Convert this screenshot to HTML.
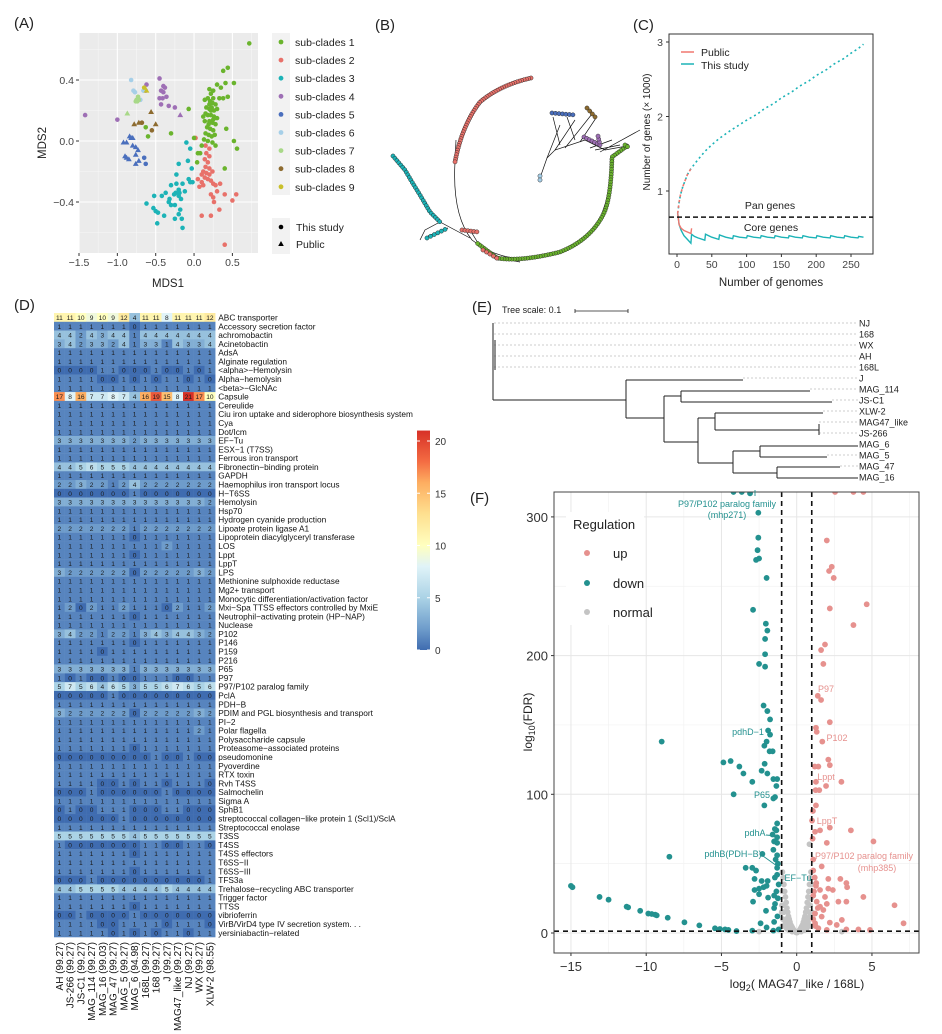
<!DOCTYPE html>
<html><head><meta charset="utf-8">
<style>
html,body{margin:0;padding:0;background:#fff;}
svg{display:block;font-family:"Liberation Sans",Arial,sans-serif;}
</style></head>
<body>
<svg id="fig" width="942" height="1034" viewBox="0 0 942 1034" xmlns="http://www.w3.org/2000/svg">
<g id="pA"></g>
<g id="pB"></g>
<g id="pC"></g>
<g id="pD"></g>
<g id="pE"></g>
<g id="pF"></g>
</svg>
<script>
// ===== Panel A data =====
const cladeNames=["sub-clades 1","sub-clades 2","sub-clades 3","sub-clades 4","sub-clades 5","sub-clades 6","sub-clades 7","sub-clades 8","sub-clades 9"];
const cladeColors=["#6AB42D","#E8716A","#1CB3B7","#9E6FB5","#4A6FBD","#A6CFE8","#A8D888","#8D6B2F","#C9C02B"];
const mdsC1=[[0.72,0.64],[0.44,0.48],[0.38,0.46],[0.41,0.38],[0.52,0.38],[0.44,0.29],[0.35,0.35],[0.3,0.37],[0.25,0.33],[0.2,0.34],[0.22,0.31],[0.18,0.28],[0.25,0.28],[0.33,0.28],[0.38,0.28],[0.14,0.27],[0.2,0.24],[0.24,0.25],[0.28,0.24],[0.16,0.22],[0.2,0.21],[0.23,0.22],[0.26,0.2],[0.3,0.21],[0.15,0.18],[0.18,0.17],[0.22,0.17],[0.26,0.16],[0.14,0.13],[0.2,0.13],[0.24,0.12],[0.28,0.11],[0.17,0.09],[0.21,0.08],[0.25,0.07],[0.42,0.08],[0.15,0.05],[0.19,0.04],[0.23,0.03],[0.27,0.04],[0.13,0.01],[0.18,0.0],[0.24,-0.01],[0.1,-0.03],[0.28,-0.03],[0.52,0.0],[0.56,-0.05],[0.0,0.02],[0.05,-0.08],[0.08,-0.08],[-0.07,0.21],[-0.3,0.05],[-0.63,0.09],[-0.6,0.03],[0.04,-0.14],[0.4,-0.18],[0.12,0.16],[0.3,0.15],[0.22,0.2],[0.19,0.11],[0.25,0.14],[0.21,0.26]];
const mdsC2=[[0.15,-0.03],[0.2,-0.05],[0.16,-0.08],[0.2,-0.1],[0.14,-0.12],[0.18,-0.14],[0.15,-0.17],[0.2,-0.18],[0.12,-0.2],[0.16,-0.21],[0.2,-0.22],[0.24,-0.2],[0.1,-0.22],[0.14,-0.24],[0.18,-0.25],[0.22,-0.26],[0.1,-0.27],[0.05,-0.25],[0.12,-0.29],[0.25,-0.28],[0.28,-0.29],[0.07,-0.3],[0.34,-0.28],[0.3,-0.33],[0.25,-0.37],[0.22,-0.35],[0.26,-0.4],[0.4,-0.35],[0.55,-0.35],[0.5,-0.39],[0.33,-0.45],[0.22,-0.49],[0.1,-0.49],[0.4,-0.68],[0.02,0.02]];
const mdsC3=[[-0.1,-0.01],[-0.05,-0.05],[-0.2,-0.15],[-0.03,-0.18],[-0.23,-0.22],[-0.07,-0.25],[-0.05,-0.27],[-0.02,-0.27],[-0.3,-0.29],[-0.23,-0.28],[-0.15,-0.28],[-0.2,-0.32],[-0.19,-0.34],[-0.24,-0.34],[-0.12,-0.33],[-0.37,-0.34],[-0.2,-0.36],[-0.26,-0.35],[-0.52,-0.36],[-0.42,-0.36],[-0.32,-0.38],[-0.33,-0.4],[-0.17,-0.38],[-0.25,-0.42],[-0.3,-0.42],[-0.62,-0.41],[-0.53,-0.44],[-0.5,-0.46],[-0.47,-0.47],[-0.18,-0.45],[-0.2,-0.48],[-0.39,-0.49],[-0.25,-0.51],[-0.16,-0.51],[-0.48,-0.54],[-0.15,-0.57],[-0.08,-0.13]];
const mdsC4=[[-1.42,0.17],[-1.0,0.14],[-0.62,0.37],[-0.45,0.41],[-0.4,0.36],[-0.38,0.35],[-0.43,0.33],[-0.4,0.32],[-0.45,0.28],[-0.41,0.28],[-0.36,0.29],[-0.43,0.24],[-0.33,0.23],[-0.25,0.22],[-0.63,0.33]];
const mdsC4t=[[-0.18,0.17]];
const mdsC5t=[[-0.84,0.03],[-0.82,0.02],[-0.8,0.02],[-0.92,-0.01],[-0.88,-0.01],[-0.8,-0.03],[-0.76,-0.04],[-0.73,-0.06],[-0.9,-0.1],[-0.88,-0.11],[-0.85,-0.12],[-0.76,-0.09],[-0.72,-0.13],[-0.76,-0.15]];
const mdsC5=[[-0.65,-0.11],[-0.63,-0.15]];
const mdsC6=[[-0.82,0.4],[-0.79,0.33],[-0.77,0.32],[-0.7,0.27],[-0.66,0.33]];
const mdsC7=[[-0.75,0.27],[-0.74,0.26],[-0.72,0.27],[-0.73,0.29],[-0.76,0.26]];
const mdsC7t=[[-0.87,0.18]];
const mdsC8=[[-0.68,0.12],[-0.55,0.07]];
const mdsC8t=[[-0.78,0.11],[-0.72,0.12],[-0.56,0.19],[-0.5,0.11]];
const mdsC9=[[-0.65,0.35]];
const mdsC9t=[[-0.62,0.33]];
const mdsXTicks=[-1.5,-1.0,-0.5,0.0,0.5];
const mdsYTicks=[0.4,0.0,-0.4];

// ===== Panel C data =====
const genomeTicks=[0,50,100,150,200,250];
const geneTicks=[1,2,3];
const panN=[1,3,5,8,10,15,20,30,40,50,60,75,90,100,115,125,140,150,165,175,190,200,215,225,240,250,260,268];
const panV=[0.70,0.85,0.95,1.05,1.10,1.22,1.30,1.42,1.53,1.62,1.70,1.80,1.89,1.95,2.03,2.10,2.18,2.25,2.33,2.40,2.48,2.55,2.63,2.70,2.78,2.85,2.91,2.97];
const panPubN=[1,3,5,8,10,15,20];
const panPubV=[0.70,0.85,0.95,1.05,1.10,1.22,1.30];
const coreN=[1,3,6,10,15,20,21,25,30,40,41,50,60,61,70,80,81,90,100,101,110,120,121,130,140,141,150,160,161,170,180,181,190,200,201,210,220,221,230,240,241,250,260,261,268];
const coreV=[0.70,0.55,0.47,0.40,0.35,0.30,0.42,0.39,0.37,0.34,0.42,0.38,0.35,0.41,0.38,0.36,0.40,0.38,0.37,0.40,0.38,0.37,0.40,0.38,0.37,0.40,0.38,0.37,0.40,0.38,0.37,0.40,0.38,0.37,0.40,0.38,0.37,0.40,0.38,0.37,0.40,0.38,0.37,0.39,0.38];
const corePubN=[1,3,6,10,15,20,21];
const corePubV=[0.70,0.55,0.50,0.47,0.45,0.43,0.50];

// ===== Panel D data =====
const genomes=["AH (99.27)","JS-266 (99.27)","JS-C1 (99.27)","MAG_114 (99.27)","MAG_16 (99.03)","MAG_47 (99.27)","MAG_5 (99.27)","MAG_6 (94.98)","168L (99.27)","168 (99.27)","J (99.27)","MAG47_like (99.27)","NJ (99.27)","WX (99.27)","XLW-2 (98.55)"];
const factors=["ABC transporter","Accessory secretion factor","achromobactin","Acinetobactin","AdsA","Alginate regulation","<alpha>\u2212Hemolysin","Alpha\u2212hemolysin","<beta>\u2212GlcNAc","Capsule","Cereulide","Ciu iron uptake and siderophore biosynthesis system","Cya","Dot/Icm","EF\u2212Tu","ESX\u22121 (T7SS)","Ferrous iron transport","Fibronectin\u2212binding protein","GAPDH","Haemophilus iron transport locus","H\u2212T6SS","Hemolysin","Hsp70","Hydrogen cyanide production","Lipoate protein ligase A1","Lipoprotein diacylglyceryl transferase","LOS","Lppt","LppT","LPS","Methionine sulphoxide reductase","Mg2+ transport","Monocytic differentiation/activation factor","Mxi\u2212Spa TTSS effectors controlled by MxiE","Neutrophil\u2212activating protein (HP\u2212NAP)","Nuclease","P102","P146","P159","P216","P65","P97","P97/P102 paralog family","PclA","PDH\u2212B","PDIM and PGL biosynthesis and transport","PI\u22122","Polar flagella","Polysaccharide capsule","Proteasome\u2212associated proteins","pseudomonine","Pyoverdine","RTX toxin","Rvh T4SS","Salmochelin","Sigma A","SphB1","streptococcal collagen\u2212like protein 1 (Scl1)/SclA","Streptococcal enolase","T3SS","T4SS","T4SS effectors","T6SS\u2212II","T6SS\u2212III","TFS3a","Trehalose\u2212recycling ABC transporter","Trigger factor","TTSS","vibrioferrin","VirB/VirD4 type IV secretion system. . .","yersiniabactin\u2212related"];
const counts=[
"11 11 10 9 10 9 12 4 11 11 8 11 11 11 12","1 1 1 1 1 1 1 0 1 1 1 1 1 1 1","4 4 2 4 3 4 4 1 4 4 4 4 4 4 4","3 4 2 3 3 2 4 1 3 3 1 4 3 3 4",
"1 1 1 1 1 1 1 1 1 1 1 1 1 1 1","1 1 1 1 1 1 1 1 1 1 1 1 1 1 1","0 0 0 0 1 1 0 0 0 1 0 0 1 0 1","1 1 1 1 0 0 1 0 1 0 1 1 0 1 0","1 1 1 1 1 1 1 1 1 1 1 1 1 1 1",
"17 8 16 7 7 8 7 4 16 19 15 8 21 17 10","1 1 1 1 1 1 1 1 1 1 1 1 1 1 1","1 1 1 1 1 1 1 1 1 1 1 1 1 1 1","1 1 1 1 1 1 1 1 1 1 1 1 1 1 1","1 1 1 1 1 1 1 1 1 1 1 1 1 1 1",
"3 3 3 3 3 3 3 2 3 3 3 3 3 3 3","1 1 1 1 1 1 1 1 1 1 1 1 1 1 1","1 1 1 1 1 1 1 1 1 1 1 1 1 1 1","4 4 5 6 5 5 5 4 4 4 4 4 4 4 4","1 1 1 1 1 1 1 1 1 1 1 1 1 1 1",
"2 2 3 2 2 1 2 4 2 2 2 2 2 2 2","0 0 0 0 0 0 0 1 0 0 0 0 0 0 0","3 3 3 3 3 3 3 3 3 3 3 3 3 3 2","1 1 1 1 1 1 1 1 1 1 1 1 1 1 1","1 1 1 1 1 1 1 1 1 1 1 1 1 1 1",
"2 2 2 2 2 2 2 1 2 2 2 2 2 2 2","1 1 1 1 1 1 1 0 1 1 1 1 1 1 1","1 1 1 1 1 1 1 1 1 1 2 1 1 1 1","1 1 1 1 1 1 1 0 1 1 1 1 1 1 1","1 1 1 1 1 1 1 1 1 1 1 1 1 1 1",
"3 2 2 2 2 2 2 0 2 2 2 2 2 3 2","1 1 1 1 1 1 1 1 1 1 1 1 1 1 1","1 1 1 1 1 1 1 1 1 1 1 1 1 1 1","1 1 1 1 1 1 1 1 1 1 1 1 1 1 1","1 2 0 2 1 1 2 1 1 1 0 2 1 1 2",
"1 1 1 1 1 1 1 0 1 1 1 1 1 1 1","1 1 1 1 1 1 1 1 1 1 1 1 1 1 1","3 4 2 2 1 2 2 1 3 4 3 4 4 3 2","1 1 1 1 1 1 1 0 1 1 1 1 1 1 1","1 1 1 1 0 1 1 1 1 1 1 1 1 1 1",
"1 1 1 1 1 1 1 1 1 1 1 1 1 1 1","3 3 3 3 3 3 3 1 3 3 3 3 3 3 3","1 0 1 0 0 1 0 0 1 1 1 0 0 1 1","5 7 5 6 4 6 5 3 5 5 6 7 6 5 6","0 0 0 0 0 1 0 0 0 0 0 0 0 0 0",
"1 1 1 1 1 1 1 1 1 1 1 1 1 1 1","3 2 2 2 2 2 2 0 2 2 2 2 2 3 2","1 1 1 1 1 1 1 1 1 1 1 1 1 1 1","1 1 1 1 1 1 1 1 1 1 1 1 1 2 1","1 1 1 1 1 1 1 1 1 1 1 1 1 1 1",
"1 1 1 1 1 1 1 0 1 1 1 1 1 1 1","0 0 0 0 0 0 0 0 0 1 0 0 1 0 0","1 1 1 1 1 1 1 1 1 1 1 1 1 1 1","1 1 1 1 1 1 1 1 1 1 1 1 1 1 1","1 1 1 1 0 0 1 0 1 1 0 1 1 1 0",
"0 0 0 1 0 0 0 0 0 0 1 0 0 0 0","1 1 1 1 1 1 1 1 1 1 1 1 1 1 1","0 1 0 0 1 1 1 0 0 0 1 1 0 0 0","0 0 0 0 0 0 1 0 0 0 0 0 0 0 0","1 1 1 1 1 1 1 1 1 1 1 1 1 1 1",
"5 5 5 5 5 5 5 4 5 5 5 5 5 5 5","1 0 0 0 0 0 0 0 1 1 0 0 1 1 0","1 1 1 1 1 1 1 0 1 1 1 1 1 1 1","1 1 1 1 1 1 1 1 1 1 1 1 1 1 1","1 1 1 1 1 1 1 0 1 1 1 1 1 1 1",
"0 0 0 1 0 0 0 0 0 0 0 0 0 0 1","4 4 5 5 5 5 4 4 4 4 5 4 4 4 4","1 1 1 1 1 1 1 1 1 1 1 1 1 1 1","1 1 1 1 1 1 1 0 1 1 1 1 1 1 1","0 0 1 0 0 0 0 1 0 0 0 0 0 0 0",
"1 1 1 1 0 0 1 1 1 1 0 1 1 1 0","1 1 1 1 1 0 1 0 1 0 1 1 0 1 1"];
const scaleTicks=[0,5,10,15,20];

// ===== Panel F data =====
const fcTicks=[-15,-10,-5,0,5];
const fdrTicks=[0,100,200,300];
const downFC=[-4.2,-3.65,-3.1,-2.55,-2.55,-2.6,-2.5,-2.7,-2.0,-2.9,-2.05,-1.95,-2.1,-2.1,-2.5,-2.1,-2.2,-1.95,-1.77,-1.9,-1.77,-2.0,-8.97,-2.15,-1.8,-1.6,-4.87,-4.39,-3.81,-2.13,-3.54,-2.33,-1.95,-2.95,-1.55,-1.3,-1.35,-4.19,-1.44,-1.55,-2.15,-1.3,-1.45,-1.35,-1.6,-1.3,-1.5,-1.3,-1.55,-1.3,-1.4,-1.25,-1.3,-8.46,-2.28,-3.39,-2.95,-2.7,-2.8,-2.33,-1.93,-2.0,-2.8,-2.5,-2.2,-2.5,-1.9,-2.9,-1.5,-1.44,-2.04,-1.5,-1.28,-15.0,-14.9,-13.1,-12.5,-11.3,-11.2,-10.4,-9.86,-9.63,-9.4,-9.3,-8.57,-7.46,-6.47,-5.43,-5.1,-4.76,-4.54,-4.0,-2.95,-2.4,-2.0,-1.55,-1.2,-1.3,-1.45,-1.2,-1.35,-1.25,-1.5];
const downFDR=[318,318,317,303,285,276,270,269,256,233,223,218,212,201,194,192,164,160,154,146,143,138,138,135,131,131,123,124,120,122,115,117,115,109,111,111,106,100,98,97,92,79,75,74,71,69,66,65,60,56,53,50,47,55,57,47,47,45,39,37.5,37.5,34,31,32,33,28,25.5,22.6,27,21,16,18,12,34,33,26,24,19,18.5,16,14,13.7,13.2,12.7,11,7.7,5.5,3.4,2.9,2.6,2.2,1.4,1.7,7,4,1.7,2.6,42,40,35,30,25,8];
const upFC=[2.55,3.77,4.43,2.0,2.15,2.33,2.46,2.2,4.65,3.77,1.88,1.62,1.77,1.4,1.62,2.2,1.28,1.33,1.7,2.1,2.2,1.2,1.44,2.97,1.28,1.95,1.26,1.5,1.28,1.08,1.02,1.22,1.55,2.2,3.6,2.0,5.1,1.06,1.1,1.66,2.1,2.9,3.3,3.35,1.28,1.55,2.1,2.4,4.43,6.5,7.1,1.1,1.88,1.33,2.77,3.3,1.55,2.0,1.77,1.22,1.66,3.0,2.2,2.66,1.22,4.1,4.87,3.3,2.0,1.44,1.1,1.2,1.3,1.15,1.4,1.1,1.25];
const upFDR=[318,318,318,283,261,264,256,234,237,222,208,204,194,171,168,152,148,145,138,125,121,120,120,109,109,106,103,103,92,88,81,73,74,76,74,65,66,68,53,48,39,39,36,33,34,31,32,31,26,20,7,27,26,22.6,22.6,22.6,19,21,16.6,14,11.8,9.4,7.5,5.8,7,2.6,2.2,2.6,2.2,3.4,45,40,36,30,18,10,5];
const normFC=[-0.95,-0.9,-0.85,-0.8,-0.75,-0.7,-0.65,-0.6,-0.55,-0.5,-0.45,-0.4,-0.35,-0.3,-0.25,-0.2,-0.15,-0.1,-0.05,0,0.05,0.1,0.15,0.2,0.25,0.3,0.35,0.4,0.45,0.5,0.55,0.6,0.65,0.7,0.75,0.8,0.85,0.9,0.95,-0.98,-0.92,-0.95,0.95,0.9,0.98,-0.5,0.5,-0.8,0.8,-0.3,0.3,-0.9,-0.7,-0.6,0.6,0.7,0.9,-1.0,1.0,-0.95,0.95,0.85,-2.5,3.0,-0.85,0.85,-0.75,0.75,-0.65,0.65];
const normFDR=[44,40,35,30,26,22,18,15,12,10,8,6,5,4,3,2,1.5,1,0.5,0.3,0.5,1,1.5,2,3,4,5,6,8,10,12,15,18,22,26,30,35,40,44,20,10,30,25,12,35,2,2,5,5,1,1,20,10,5,5,10,20,15,15,5,5,64,1,1,15,15,8,8,3,3];

// ===== helpers =====
const NS="http://www.w3.org/2000/svg";
function mk(parent,tag,attrs,text){const e=document.createElementNS(NS,tag);for(const k in attrs)e.setAttribute(k,attrs[k]);if(text!==undefined)e.textContent=text;parent.appendChild(e);return e;}

// ===== Panel A =====
(function(){
const g=document.getElementById('pA');
const xA=v=>79+(v+1.5)*76.7, yA=v=>141-v*152.5;
let t=mk(g,'text',{x:14,y:28,'font-size':15,fill:'#222'},'(A)');


const bg=mk(g,'rect',{x:79,y:33,width:179,height:220,fill:'#EBEBEB'});


[-1.25,-0.75,-0.25,0.25,0.75].forEach(v=>{if(xA(v)<258)mk(g,'line',{x1:xA(v),x2:xA(v),y1:33,y2:253,stroke:'#F7F7F7','stroke-width':0.6});});
[0.6,0.2,-0.2,-0.6].forEach(v=>mk(g,'line',{x1:79,x2:258,y1:yA(v),y2:yA(v),stroke:'#F7F7F7','stroke-width':0.6}));
mdsXTicks.forEach(v=>{mk(g,'line',{x1:xA(v),x2:xA(v),y1:33,y2:253,stroke:'#fff','stroke-width':1.1});mk(g,'line',{x1:xA(v),x2:xA(v),y1:253,y2:256,stroke:'#333'});
const l=mk(g,'text',{x:xA(v),y:266,'font-size':10.5,'text-anchor':'middle',fill:'#444'},(v<0?'\u2212':'')+Math.abs(v).toFixed(1));

});
mdsYTicks.forEach(v=>{mk(g,'line',{x1:79,x2:258,y1:yA(v),y2:yA(v),stroke:'#fff','stroke-width':1.1});mk(g,'line',{x1:76,x2:79,y1:yA(v),y2:yA(v),stroke:'#333'});
const l=mk(g,'text',{x:74,y:yA(v)+4,'font-size':10.5,'text-anchor':'end',fill:'#444'},(v<0?'\u2212':'')+Math.abs(v).toFixed(1));

});
const xl=mk(g,'text',{x:168,y:287,'font-size':11.5,'text-anchor':'middle',fill:'#222'},'MDS1');


const yl=mk(g,'text',{x:0,y:0,'font-size':11.5,'text-anchor':'middle',fill:'#222',transform:'translate(46,143) rotate(-90)'},'MDS2');


function circ(arr,ci){arr.forEach(p=>{const c=mk(g,'circle',{cx:xA(p[0]),cy:yA(p[1]),r:2.3,fill:cladeColors[ci]});

});}
function tri(arr,ci){arr.forEach(p=>{const x=xA(p[0]),y=yA(p[1]);const c=mk(g,'polygon',{points:`${x},${y-3} ${x-2.9},${y+2} ${x+2.9},${y+2}`,fill:cladeColors[ci]});

});}
circ(mdsC3,2);circ(mdsC2,1);circ(mdsC1,0);circ(mdsC4,3);tri(mdsC4t,3);tri(mdsC5t,4);circ(mdsC5,4);circ(mdsC6,5);circ(mdsC7,6);tri(mdsC7t,6);circ(mdsC8,7);tri(mdsC8t,7);circ(mdsC9,8);tri(mdsC9t,8);
const lb=mk(g,'rect',{x:272,y:33,width:18,height:162,fill:'#F2F2F2'});


cladeNames.forEach((n,i)=>{const y=42+i*18.1;const c=mk(g,'circle',{cx:281,cy:y,r:2.4,fill:cladeColors[i]});


const tt=mk(g,'text',{x:295,y:y+4,'font-size':10.5,fill:'#222'},n);

});
mk(g,'rect',{x:272,y:218,width:18,height:36,fill:'#F2F2F2'});
mk(g,'circle',{cx:281,cy:227,r:2.3,fill:'#000'});
mk(g,'polygon',{points:'281,241 278.2,246 283.8,246',fill:'#000'});
const s1=mk(g,'text',{x:296,y:231,'font-size':10.5,fill:'#222'},'This study');


const s2=mk(g,'text',{x:296,y:248,'font-size':10.5,fill:'#222'},'Public');


})();

// ===== Panel B (phylogeny sketch) =====
(function(){
const g=document.getElementById('pB');
const t=mk(g,'text',{x:375,y:30,'font-size':15,fill:'#222'},'(B)');


const edges=["M455,162 Q452,215 472,240 Q500,262 535,258 Q580,250 600,218 Q612,190 612,157","M540,178 L547,158 L555,150 L585,140 L605,150 L627,146","M547,158 L560,125 M555,150 L575,120 M565,148 L592,114 M580,142 L596,118 M590,148 L612,140 M595,150 L620,145 M600,152 L640,130 M560,145 L553,117 M575,140 L567,117","M455,162 L456,140","M470,238 L440,222 L425,230 L420,240 M448,228 L428,236","M478,243 L470,230 L462,230 M490,255 L505,260 M500,258 L520,262"];
edges.forEach(d=>{const p=mk(g,'path',{d:d,fill:'none',stroke:'#111','stroke-width':0.7});

});
const arcs=[
["M627,146 L612,157 Q611,200 603,215 Q590,240 560,252 Q520,262 497,258 L477,243",'#6AB42D',2.6],
["M531,78 Q500,85 480,102 Q462,125 455,162",'#E8716A',2.4],
["M393,156 L405,170 L412,182 L420,195 L430,212 L440,222",'#1CB3B7',3],
["M427,238 L448,228",'#1CB3B7',4],
["M462,230 L478,232",'#E8716A',3],
["M483,250 L500,260",'#E8716A',4],
["M552,113 L575,115",'#4A6FBD',3.5],
["M587,108 L596,118",'#8D6B2F',4],
["M584,137 L600,145 L598,136",'#9E6FB5',3],
["M540,176 L540,180",'#A6CFE8',4],
["M625,145 L628,147",'#6AB42D',3]];
arcs.forEach(a=>{const p=mk(g,'path',{d:a[0],fill:'none',stroke:'none'});const L=p.getTotalLength();
for(let s=0;s<=L;s+=a[2]){const pt=p.getPointAtLength(s);const c=mk(g,'circle',{cx:pt.x,cy:pt.y,r:2.1,fill:a[1],stroke:'#222','stroke-width':0.45});

}});
})();

// ===== Panel C =====
(function(){
const g=document.getElementById('pC');
const xC=n=>677+n*0.696, yC=v=>191-(v-1)*74.5;
const t=mk(g,'text',{x:633,y:30,'font-size':15,fill:'#222'},'(C)');


const box=mk(g,'rect',{x:669,y:34,width:204,height:220,fill:'none',stroke:'#333','stroke-width':1});


genomeTicks.forEach(n=>{mk(g,'line',{x1:xC(n),x2:xC(n),y1:254,y2:257,stroke:'#333'});
const l=mk(g,'text',{x:xC(n),y:268,'font-size':10.5,'text-anchor':'middle',fill:'#444'},String(n));

});
geneTicks.forEach(v=>{mk(g,'line',{x1:666,x2:669,y1:yC(v),y2:yC(v),stroke:'#333'});
const l=mk(g,'text',{x:663,y:yC(v)+4,'font-size':10.5,'text-anchor':'end',fill:'#444'},String(v));

});
const xl=mk(g,'text',{x:771,y:286,'font-size':11.5,'text-anchor':'middle',fill:'#222'},'Number of genomes');


const yl=mk(g,'text',{x:0,y:0,'font-size':10,'text-anchor':'middle',fill:'#222',transform:'translate(650,132) rotate(-90)'},'Number of genes (\u00d7 1000)');


const pl=(N,V)=>N.map((n,i)=>`${i?'L':'M'}${xC(n).toFixed(1)},${yC(V[i]).toFixed(1)}`).join(' ');
let p=mk(g,'path',{d:pl(panN,panV),fill:'none',stroke:'#1CB3B7','stroke-width':1.6,'stroke-dasharray':'2 3'});


p=mk(g,'path',{d:pl(panPubN,panPubV),fill:'none',stroke:'#F0776F','stroke-width':1.6,'stroke-dasharray':'2.5 3'});


p=mk(g,'path',{d:pl(coreN,coreV),fill:'none',stroke:'#1CB3B7','stroke-width':1.4});


p=mk(g,'path',{d:pl(corePubN,corePubV),fill:'none',stroke:'#F0776F','stroke-width':1.4});


const dl=mk(g,'line',{x1:669,x2:873,y1:yC(0.65),y2:yC(0.65),stroke:'#111','stroke-width':1.5,'stroke-dasharray':'5 3'});


let a=mk(g,'text',{x:770,y:209,'font-size':10.5,'text-anchor':'middle',fill:'#222'},'Pan genes');


a=mk(g,'text',{x:771,y:231,'font-size':10.5,'text-anchor':'middle',fill:'#222'},'Core genes');


mk(g,'line',{x1:681,x2:694,y1:52,y2:52,stroke:'#F0776F','stroke-width':1.5});
mk(g,'line',{x1:681,x2:694,y1:64,y2:64,stroke:'#1CB3B7','stroke-width':1.5});
a=mk(g,'text',{x:701,y:56,'font-size':10.5,fill:'#222'},'Public');


a=mk(g,'text',{x:701,y:69,'font-size':10.5,fill:'#222'},'This study');


})();

// ===== Panel D =====
(function(){
const g=document.getElementById('pD');
const t=mk(g,'text',{x:14,y:310,'font-size':15,fill:'#222'},'(D)');


const stops=[[0,[63,108,176]],[2,[110,156,203]],[5,[171,211,230]],[8,[224,243,248]],[10,[255,255,191]],[13,[254,224,144]],[16,[253,174,97]],[18,[244,109,67]],[21,[215,48,39]]];
function col(v){for(let i=1;i<stops.length;i++){if(v<=stops[i][0]){const a=stops[i-1],b=stops[i];const f=(v-a[0])/(b[0]-a[0]);return 'rgb('+a[1].map((c,j)=>Math.round(c+(b[1][j]-c)*f)).join(',')+')';}}return 'rgb(215,48,39)';}
const x0=54,cw=10.75,y0=313,rh=8.79;
counts.forEach((row,r)=>{const vals=row.split(' ').map(Number);
vals.forEach((v,c)=>{const cell=mk(g,'rect',{x:x0+c*cw,y:y0+r*rh,width:cw+0.2,height:rh+0.2,fill:col(v)});


const tx=mk(g,'text',{x:x0+c*cw+cw/2,y:y0+r*rh+rh-1.8,'font-size':6.6,'text-anchor':'middle',fill:'#1a1a1a'},String(v));

});
const lbl=mk(g,'text',{x:x0+15*cw+3,y:y0+r*rh+rh-1.3,'font-size':8.3,fill:'#111'},factors[r]);

});
genomes.forEach((n,c)=>{const x=x0+c*cw+cw/2+3.5;const l=mk(g,'text',{x:0,y:0,'font-size':10,'text-anchor':'end',fill:'#111',transform:`translate(${x},${y0+71*rh+5}) rotate(-90)`},n);

});
const defs=mk(g,'defs',{});const lg=mk(defs,'linearGradient',{id:'hg',x1:0,y1:1,x2:0,y2:0});
stops.forEach(s=>mk(lg,'stop',{offset:s[0]/21,'stop-color':`rgb(${s[1].join(',')})`}));
const ys=v=>650-v*10.45;
const bar=mk(g,'rect',{x:417,y:ys(21),width:13,height:21*10.45,fill:'url(#hg)'});


scaleTicks.forEach(v=>{mk(g,'line',{x1:417,x2:420,y1:ys(v),y2:ys(v),stroke:'#fff'});mk(g,'line',{x1:427,x2:430,y1:ys(v),y2:ys(v),stroke:'#fff'});
const l=mk(g,'text',{x:435,y:ys(v)+4,'font-size':10,fill:'#333'},String(v));

});
})();

// ===== Panel E =====
(function(){
const g=document.getElementById('pE');
let t=mk(g,'text',{x:472,y:312,'font-size':15,fill:'#222'},'(E)');


t=mk(g,'text',{x:502,y:313,'font-size':9,fill:'#222'},'Tree scale: 0.1');


mk(g,'path',{d:'M575,311 L628,311 M575,309 L575,313 M628,309 L628,313',stroke:'#222','stroke-width':0.8,fill:'none'});
const tips=["NJ","168","WX","AH","168L","J","MAG_114","JS-C1","XLW-2","MAG47_like","JS-266","MAG_6","MAG_5","MAG_47","MAG_16"];
const tipX=[494,494,494,494,494,743,810,832,823,819,819,858,827,840,858];
const ty=i=>323+i*11;
tips.forEach((n,i)=>{if(tipX[i]<857)mk(g,'line',{x1:tipX[i],x2:858,y1:ty(i),y2:ty(i),stroke:'#999','stroke-width':0.6,'stroke-dasharray':'2 2'});
const l=mk(g,'text',{x:859,y:ty(i)+3.5,'font-size':9,fill:'#222'},n);

});
const d="M493,323 L493,400 M493,400 L626,400 M626,380 L626,418 M626,380 L743,380 M626,418 L664,418 M664,396 L664,442 M664,396 L681,396 M681,391 L681,402 M681,391 L810,391 M681,402 L832,402 M664,442 L698,442 M698,418 L698,463 M698,418 L715,418 M715,413 L715,430 M715,413 L823,413 M715,430 L819,430 M819,424 L819,435 M698,463 L733,463 M733,451 L733,473 M733,451 L760,451 M760,446 L760,457 M760,446 L858,446 M760,457 L827,457 M733,473 L777,473 M777,467 L777,478 M777,467 L840,467 M777,478 L858,478 M495,340 L495,370";
const p=mk(g,'path',{d:d,stroke:'#222','stroke-width':1,fill:'none'});


})();

// ===== Panel F =====
(function(){
const g=document.getElementById('pF');
const xF=v=>796.7+v*15.05, yF=v=>933-v*1.387;
let t=mk(g,'text',{x:470,y:503,'font-size':15,fill:'#222'},'(F)');


const cp=mk(g,'clipPath',{id:'fclip'});mk(cp,'rect',{x:554,y:492,width:365,height:461});
[-12.5,-7.5,-2.5,2.5,7.5].forEach(v=>mk(g,'line',{x1:xF(v),x2:xF(v),y1:492,y2:953,stroke:'#F2F2F2','stroke-width':0.7}));
[50,150,250].forEach(v=>mk(g,'line',{x1:554,x2:919,y1:yF(v),y2:yF(v),stroke:'#F2F2F2','stroke-width':0.7}));
fcTicks.forEach(v=>{mk(g,'line',{x1:xF(v),x2:xF(v),y1:492,y2:953,stroke:'#E6E6E6','stroke-width':1});mk(g,'line',{x1:xF(v),x2:xF(v),y1:953,y2:956,stroke:'#333'});
const l=mk(g,'text',{x:xF(v),y:971,'font-size':13,'text-anchor':'middle',fill:'#333'},(v<0?'\u2212':'')+Math.abs(v));

});
fdrTicks.forEach(v=>{mk(g,'line',{x1:554,x2:919,y1:yF(v),y2:yF(v),stroke:'#E6E6E6','stroke-width':1});mk(g,'line',{x1:551,x2:554,y1:yF(v),y2:yF(v),stroke:'#333'});
const l=mk(g,'text',{x:548,y:yF(v)+5,'font-size':13,'text-anchor':'end',fill:'#333'},String(v));

});
const pts=mk(g,'g',{'clip-path':'url(#fclip)'});
function draw(F,Y,c,nm){F.forEach((v,i)=>{const e=mk(pts,'circle',{cx:xF(v),cy:yF(Y[i]),r:2.9,fill:c});

});}
draw(normFC,normFDR,'#C4C4C4','point-normal');
draw(downFC,downFDR,'#23918F','point-down');
draw(upFC,upFDR,'#E6918E','point-up');
[-1,1].forEach(v=>{const l=mk(g,'line',{x1:xF(v),x2:xF(v),y1:492,y2:953,stroke:'#111','stroke-width':1.6,'stroke-dasharray':'5 4'});

});
const hl=mk(g,'line',{x1:554,x2:919,y1:yF(1.3),y2:yF(1.3),stroke:'#111','stroke-width':1.6,'stroke-dasharray':'5 4'});


const fr=mk(g,'rect',{x:554,y:492,width:365,height:461,fill:'none',stroke:'#444','stroke-width':1});


const ann=[["P97/P102 paralog family",727,507,'#23918F'],["(mhp271)",727,518,'#23918F'],["pdhD\u22121",748,735,'#23918F'],["P65",762,798,'#23918F'],["pdhA",755,836,'#23918F'],["pdhB(PDH\u2212B)",733,857,'#23918F'],["EF\u2212Tu",798,881,'#23918F'],["P97",826,692,'#E6918E'],["P102",837,741,'#E6918E'],["Lppt",826,780,'#E6918E'],["LppT",827,824,'#E6918E'],["P97/P102 paralog family",864,859,'#E6918E'],["(mhp385)",877,871,'#E6918E']];
ann.forEach(a=>{const l=mk(g,'text',{x:a[1],y:a[2],'font-size':9,'text-anchor':'middle',fill:a[3]},a[0]);

});
mk(g,'path',{d:'M755,496 L755,490 M766,835 L776,836 M763,856 L777,866',stroke:'#23918F','stroke-width':0.9,fill:'none'});
mk(g,'rect',{x:566,y:512,width:78,height:113,fill:'#fff'});
let l=mk(g,'text',{x:573,y:529,'font-size':13,fill:'#222'},'Regulation');


[["up",'#E6918E',553],["down",'#23918F',583],["normal",'#C4C4C4',612]].forEach(e=>{mk(g,'circle',{cx:587,cy:e[2],r:3,fill:e[1]});
const tt=mk(g,'text',{x:613,y:e[2]+5,'font-size':13,fill:'#222'},e[0]);

});
l=mk(g,'text',{x:797,y:988,'font-size':12,'text-anchor':'middle',fill:'#222'});
l.innerHTML='log<tspan font-size="9" dy="3">2</tspan><tspan dy="-3">( MAG47_like / 168L)</tspan>';


l=mk(g,'text',{x:0,y:0,'font-size':12,'text-anchor':'middle',fill:'#222',transform:'translate(532,722) rotate(-90)'});
l.innerHTML='log<tspan font-size="9" dy="3">10</tspan><tspan dy="-3">(FDR)</tspan>';


})();
</script>
</body></html>
